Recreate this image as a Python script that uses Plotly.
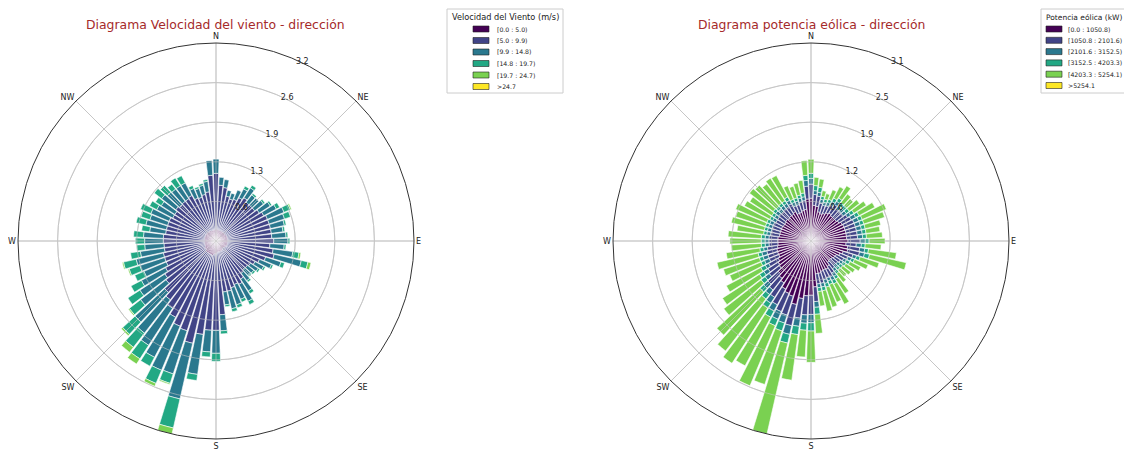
import plotly.graph_objects as go

# ---------------- data ----------------
directions = list(range(0, 360, 5))  # 72 sectors, 5 degrees each

speed_title = "Velocidad del Viento (m/s)"
power_title = "Potencia eólica (kW)"
speed_labels = ["[0.0 : 5.0)", "[5.0 : 9.9)", "[9.9 : 14.8)", "[14.8 : 19.7)", "[19.7 : 24.7)", ">24.7"]
power_labels = ["[0.0 : 1050.8)", "[1050.8 : 2101.6)", "[2101.6 : 3152.5)",
                "[3152.5 : 4203.3)", "[4203.3 : 5254.1)", ">5254.1"]
bin_colors = ["#440154", "#414487", "#2a788e", "#22a884", "#7ad151", "#fde725"]
compass_vals = [0, 45, 90, 135, 180, 225, 270, 315]
compass_text = ["N", "NE", "E", "SE", "S", "SW", "W", "NW"]

# frequency (%) per direction for each wind-speed bin
speed_b0 = [0.19, 0.19, 0.19, 0.18, 0.18, 0.18, 0.18, 0.18, 0.18, 0.18, 0.18, 0.18,
            0.19, 0.19, 0.19, 0.19, 0.19, 0.19, 0.19, 0.19, 0.19, 0.19, 0.19, 0.18,
            0.18, 0.18, 0.16, 0.16, 0.16, 0.18, 0.18, 0.18, 0.18, 0.18, 0.18, 0.19,
            0.21, 0.21, 0.23, 0.24, 0.23, 0.23, 0.23, 0.23, 0.23, 0.23, 0.21, 0.21,
            0.21, 0.19, 0.19, 0.19, 0.19, 0.19, 0.19, 0.19, 0.19, 0.19, 0.19, 0.19,
            0.19, 0.19, 0.19, 0.19, 0.19, 0.19, 0.19, 0.18, 0.18, 0.18, 0.18, 0.19]
speed_b1 = [0.90, 0.71, 0.68, 0.56, 0.53, 0.55, 0.61, 0.65, 0.61, 0.61, 0.61, 0.65,
            0.68, 0.71, 0.71, 0.71, 0.71, 0.71, 0.74, 0.68, 0.74, 0.77, 0.65, 0.58,
            0.53, 0.48, 0.48, 0.47, 0.50, 0.55, 0.61, 0.58, 0.61, 0.65, 0.65, 1.00,
            1.23, 1.23, 1.29, 1.45, 1.29, 1.26, 1.16, 1.06, 0.97, 0.90, 0.81, 0.77,
            0.71, 0.68, 0.68, 0.68, 0.65, 0.65, 0.66, 0.66, 0.63, 0.63, 0.63, 0.63,
            0.60, 0.60, 0.63, 0.61, 0.62, 0.62, 0.64, 0.57, 0.56, 0.59, 0.62, 0.87]
speed_b2 = [0.23, 0.13, 0.13, 0.10, 0.10, 0.16, 0.16, 0.19, 0.15, 0.15, 0.18, 0.21,
            0.23, 0.29, 0.26, 0.23, 0.19, 0.23, 0.23, 0.23, 0.32, 0.45, 0.26, 0.21,
            0.16, 0.15, 0.13, 0.13, 0.15, 0.23, 0.31, 0.26, 0.29, 0.29, 0.21, 0.26,
            0.37, 0.35, 0.65, 0.92, 0.73, 0.77, 0.73, 0.71, 0.68, 0.65, 0.52, 0.48,
            0.44, 0.39, 0.42, 0.45, 0.39, 0.31, 0.30, 0.32, 0.26, 0.34, 0.30, 0.32,
            0.29, 0.26, 0.29, 0.27, 0.25, 0.25, 0.23, 0.17, 0.15, 0.15, 0.17, 0.24]
speed_b3 = [0.00, 0.00, 0.00, 0.00, 0.00, 0.00, 0.05, 0.05, 0.03, 0.00, 0.03, 0.03,
            0.06, 0.11, 0.10, 0.03, 0.03, 0.03, 0.03, 0.03, 0.10, 0.11, 0.06, 0.03,
            0.03, 0.03, 0.03, 0.02, 0.03, 0.05, 0.06, 0.05, 0.05, 0.05, 0.03, 0.05,
            0.13, 0.08, 0.10, 0.48, 0.16, 0.23, 0.16, 0.26, 0.29, 0.27, 0.23, 0.23,
            0.19, 0.16, 0.18, 0.21, 0.16, 0.13, 0.15, 0.16, 0.13, 0.16, 0.15, 0.18,
            0.13, 0.11, 0.15, 0.15, 0.10, 0.15, 0.13, 0.05, 0.03, 0.03, 0.03, 0.00]
speed_b4 = [0.00, 0.00, 0.00, 0.00, 0.00, 0.00, 0.00, 0.00, 0.00, 0.00, 0.00, 0.00,
            0.00, 0.02, 0.00, 0.00, 0.00, 0.00, 0.00, 0.00, 0.03, 0.05, 0.00, 0.00,
            0.00, 0.00, 0.00, 0.00, 0.00, 0.00, 0.00, 0.00, 0.00, 0.00, 0.00, 0.00,
            0.00, 0.00, 0.00, 0.10, 0.02, 0.05, 0.00, 0.10, 0.10, 0.03, 0.02, 0.00,
            0.00, 0.00, 0.02, 0.02, 0.00, 0.00, 0.00, 0.00, 0.00, 0.00, 0.00, 0.00,
            0.00, 0.00, 0.00, 0.00, 0.00, 0.00, 0.00, 0.00, 0.00, 0.00, 0.00, 0.00]
speed_b5 = [0.00] * 72

# frequency (%) per direction for each wind-power bin
power_b0 = [0.67, 0.56, 0.55, 0.47, 0.45, 0.47, 0.50, 0.52, 0.50, 0.50, 0.50, 0.52,
            0.55, 0.56, 0.56, 0.56, 0.56, 0.56, 0.58, 0.55, 0.58, 0.59, 0.53, 0.49,
            0.45, 0.44, 0.42, 0.41, 0.42, 0.47, 0.50, 0.49, 0.50, 0.52, 0.52, 0.72,
            0.85, 0.86, 0.91, 1.02, 0.91, 0.89, 0.85, 0.78, 0.74, 0.70, 0.63, 0.61,
            0.58, 0.55, 0.55, 0.55, 0.53, 0.52, 0.52, 0.52, 0.50, 0.50, 0.50, 0.50,
            0.49, 0.49, 0.50, 0.49, 0.50, 0.50, 0.52, 0.47, 0.47, 0.49, 0.50, 0.66]
power_b1 = [0.22, 0.17, 0.16, 0.14, 0.14, 0.13, 0.14, 0.16, 0.14, 0.14, 0.14, 0.16,
            0.16, 0.17, 0.17, 0.17, 0.17, 0.17, 0.19, 0.16, 0.19, 0.19, 0.16, 0.14,
            0.13, 0.11, 0.11, 0.11, 0.13, 0.13, 0.14, 0.14, 0.14, 0.16, 0.16, 0.23,
            0.30, 0.30, 0.31, 0.34, 0.31, 0.31, 0.28, 0.27, 0.23, 0.22, 0.20, 0.19,
            0.17, 0.16, 0.16, 0.16, 0.16, 0.14, 0.14, 0.14, 0.14, 0.14, 0.14, 0.14,
            0.13, 0.13, 0.14, 0.14, 0.14, 0.14, 0.14, 0.13, 0.13, 0.14, 0.14, 0.20]
power_b2 = [0.09, 0.06, 0.06, 0.06, 0.05, 0.06, 0.06, 0.06, 0.06, 0.06, 0.06, 0.06,
            0.08, 0.08, 0.08, 0.08, 0.08, 0.08, 0.08, 0.08, 0.08, 0.08, 0.06, 0.06,
            0.05, 0.05, 0.05, 0.05, 0.05, 0.06, 0.06, 0.05, 0.06, 0.06, 0.06, 0.09,
            0.13, 0.13, 0.13, 0.14, 0.13, 0.13, 0.11, 0.11, 0.09, 0.09, 0.08, 0.08,
            0.06, 0.08, 0.08, 0.08, 0.06, 0.06, 0.06, 0.06, 0.06, 0.06, 0.06, 0.06,
            0.06, 0.06, 0.06, 0.06, 0.06, 0.06, 0.06, 0.06, 0.06, 0.06, 0.06, 0.09]
power_b3 = [0.08, 0.08, 0.08, 0.05, 0.05, 0.05, 0.06, 0.06, 0.06, 0.06, 0.06, 0.06,
            0.06, 0.06, 0.06, 0.06, 0.06, 0.06, 0.06, 0.06, 0.06, 0.08, 0.06, 0.05,
            0.06, 0.05, 0.05, 0.05, 0.05, 0.05, 0.06, 0.06, 0.06, 0.06, 0.06, 0.11,
            0.13, 0.11, 0.13, 0.14, 0.13, 0.11, 0.11, 0.09, 0.09, 0.08, 0.08, 0.08,
            0.08, 0.06, 0.06, 0.06, 0.06, 0.06, 0.06, 0.06, 0.05, 0.05, 0.05, 0.05,
            0.05, 0.05, 0.05, 0.05, 0.05, 0.05, 0.06, 0.05, 0.05, 0.05, 0.06, 0.08]
power_b4 = [0.22, 0.13, 0.13, 0.09, 0.09, 0.16, 0.20, 0.23, 0.17, 0.14, 0.20, 0.23,
            0.28, 0.41, 0.34, 0.25, 0.22, 0.25, 0.25, 0.25, 0.44, 0.59, 0.31, 0.23,
            0.19, 0.17, 0.16, 0.14, 0.17, 0.27, 0.36, 0.30, 0.33, 0.33, 0.23, 0.30,
            0.49, 0.42, 0.72, 1.46, 0.88, 1.02, 0.86, 1.03, 1.03, 0.92, 0.74, 0.69,
            0.61, 0.53, 0.59, 0.66, 0.53, 0.47, 0.49, 0.52, 0.42, 0.53, 0.49, 0.53,
            0.45, 0.41, 0.47, 0.45, 0.38, 0.42, 0.38, 0.23, 0.19, 0.19, 0.20, 0.23]
power_b5 = [0.00] * 72

speed_bins = [speed_b0, speed_b1, speed_b2, speed_b3, speed_b4, speed_b5]
power_bins = [power_b0, power_b1, power_b2, power_b3, power_b4, power_b5]

# ---------------- figure ----------------
# the page body has an 8px margin: the figure's origin sits at (8, 8) of the window
OFF = 8
W, H = 1132 - OFF, 450 - OFF
FONT = "DejaVu Sans"
GRID = "#c4c4c4"


def px(x):
    return (x - OFF) / W


def py(y):
    return 1 - (y - OFF) / H


def radial_ticks(bins):
    totals = [sum(v) for v in zip(*bins)]
    rmax = max(totals)
    vals = [rmax * i / 5 for i in range(1, 6)]
    return rmax, vals, [f"{v:.1f}" for v in vals]


fig = go.Figure()

ring_theta = list(range(0, 362, 2))
for subplot, bins in (("polar", speed_bins), ("polar2", power_bins)):
    for k, vals in enumerate(bins):
        fig.add_trace(go.Barpolar(
            r=vals, theta=directions, width=4.3, subplot=subplot,
            marker=dict(color=bin_colors[k], line=dict(color="white", width=0.6)),
            showlegend=False, hoverinfo="r+theta",
        ))
    # matplotlib draws its grid on top of the bars: overlay rings and spokes
    rmax, tv, _ = radial_ticks(bins)
    for rv in tv[:-1]:
        fig.add_trace(go.Scatterpolar(
            r=[rv] * len(ring_theta), theta=ring_theta, mode="lines", subplot=subplot,
            line=dict(color="rgba(200,200,200,0.75)", width=0.8),
            showlegend=False, hoverinfo="skip",
        ))
    for a in compass_vals:
        fig.add_trace(go.Scatterpolar(
            r=[0, rmax], theta=[a, a], mode="lines", subplot=subplot,
            line=dict(color="rgba(200,200,200,0.75)", width=0.8),
            showlegend=False, hoverinfo="skip",
        ))


def polar_layout(x0, x1, bins):
    rmax, tv, tt = radial_ticks(bins)
    return dict(
        domain=dict(x=[px(x0), px(x1)], y=[py(439), py(43)]),
        bgcolor="white",
        barmode="stack",
        angularaxis=dict(
            direction="clockwise", rotation=90,
            tickmode="array", tickvals=compass_vals, ticktext=compass_text,
            showgrid=True, gridcolor=GRID, gridwidth=0.8,
            showline=True, linecolor="#333333", linewidth=1,
            ticks="", tickfont=dict(family=FONT, size=8, color="#222"),
        ),
        radialaxis=dict(
            range=[0, rmax], tickmode="array", tickvals=tv, ticktext=tt,
            angle=67.5, tickangle=67.5, side="clockwise",
            showline=False, showgrid=True, gridcolor=GRID, gridwidth=0.8,
            ticks="", tickfont=dict(family=FONT, size=8, color="#222"),
        ),
    )


fig.update_layout(
    width=W, height=H,
    margin=dict(l=0, r=0, t=0, b=0),
    paper_bgcolor="white",
    font=dict(family=FONT, color="#222"),
    polar=polar_layout(18, 414, speed_bins),
    polar2=polar_layout(613, 1009, power_bins),
)

# titles
titles = [("Diagrama Velocidad del viento - dirección", 216),
          ("Diagrama potencia eólica - dirección", 811)]
for text, cx in titles:
    fig.add_annotation(text=text, x=px(cx), y=py(25), xref="paper", yref="paper",
                       showarrow=False, xanchor="center", yanchor="middle",
                       font=dict(family=FONT, size=12.4, color="#a52a2a"))


# manual legends (matplotlib style)
def add_legend(title, labels, box, title_x, title_size, sw_x, text_x, rows):
    x0, y0, x1, y1 = box
    fig.add_shape(type="rect", xref="paper", yref="paper",
                  x0=px(x0), x1=px(x1), y0=py(y1), y1=py(y0),
                  line=dict(color="#cccccc", width=1), fillcolor="white", layer="above")
    fig.add_annotation(text=title, x=px(title_x), y=py(17), xref="paper", yref="paper",
                       showarrow=False, xanchor="center", yanchor="middle",
                       font=dict(family=FONT, size=title_size, color="#222"))
    for k, lab in enumerate(labels):
        yc = rows[k]
        fig.add_shape(type="rect", xref="paper", yref="paper",
                      x0=px(sw_x), x1=px(sw_x + 16), y0=py(yc + 3), y1=py(yc - 3),
                      line=dict(color="#222", width=0.6), fillcolor=bin_colors[k],
                      layer="above")
        fig.add_annotation(text=lab, x=px(text_x), y=py(yc), xref="paper", yref="paper",
                           showarrow=False, xanchor="left", yanchor="middle",
                           font=dict(family=FONT, size=6.2, color="#222"))


add_legend(speed_title, speed_labels, (447, 9, 563, 93), 505, 8.2, 473, 495,
           [29, 40.5, 52, 63.5, 75, 86.5])
add_legend(power_title, power_labels, (1041, 9, 1140, 93), 1084, 7.5, 1046, 1066,
           [29, 40.3, 51.6, 62.9, 74.2, 85.5])

fig.write_html("out.html")
